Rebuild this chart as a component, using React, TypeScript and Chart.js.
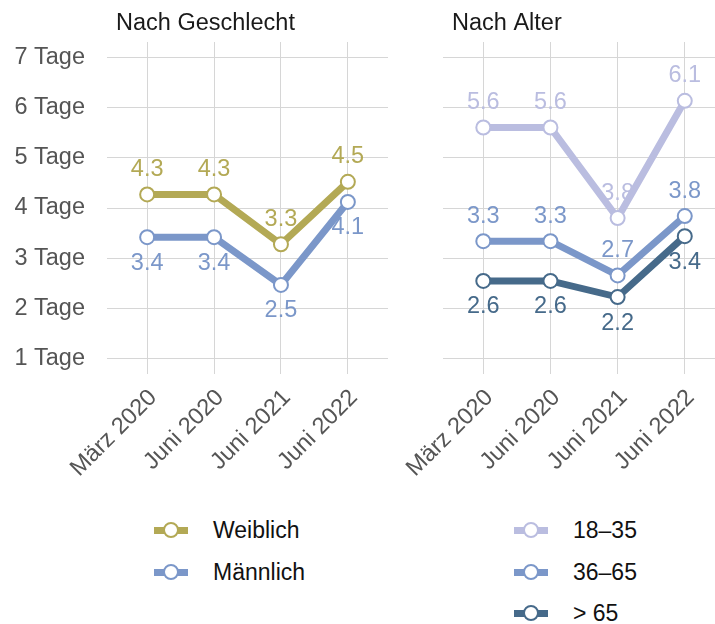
import React, { useEffect, useRef } from "react";
import { Chart, registerables } from "chart.js";

Chart.register(...registerables);

const categories = ["März 2020", "Juni 2020", "Juni 2021", "Juni 2022"];
const yTicks = [1, 2, 3, 4, 5, 6, 7];

const weiblich = [4.27, 4.27, 3.28, 4.52];
const weiblichLabels = ["4.3", "4.3", "3.3", "4.5"];
const maennlich = [3.42, 3.42, 2.47, 4.12];
const maennlichLabels = ["3.4", "3.4", "2.5", "4.1"];

const age18 = [5.6, 5.6, 3.8, 6.13];
const age18Labels = ["5.6", "5.6", "3.8", "6.1"];
const age36 = [3.34, 3.34, 2.66, 3.84];
const age36Labels = ["3.3", "3.3", "2.7", "3.8"];
const age65 = [2.55, 2.55, 2.23, 3.44];
const age65Labels = ["2.6", "2.6", "2.2", "3.4"];

const C_W = "#b3a955";
const C_M = "#7b97c9";
const C_18 = "#babde0";
const C_36 = "#7b97c9";
const C_65 = "#466a8a";

const FONT = "'Liberation Sans', Arial, Helvetica, sans-serif";
const GRID = "#d6d6d6";
const FS = 23.5;

type Series = {
  name: string;
  values: number[];
  labels: string[];
  color: string;
  pos: ("above" | "below")[];
  order: number;
};

const leftSeries: Series[] = [
  { name: "Weiblich", values: weiblich, labels: weiblichLabels, color: C_W, pos: ["above", "above", "above", "above"], order: 2 },
  { name: "Männlich", values: maennlich, labels: maennlichLabels, color: C_M, pos: ["below", "below", "below", "below"], order: 1 },
];

const rightSeries: Series[] = [
  { name: "18–35", values: age18, labels: age18Labels, color: C_18, pos: ["above", "above", "above", "above"], order: 3 },
  { name: "36–65", values: age36, labels: age36Labels, color: C_36, pos: ["above", "above", "above", "above"], order: 2 },
  { name: "> 65", values: age65, labels: age65Labels, color: C_65, pos: ["below", "below", "below", "below"], order: 1 },
];

function makeChart(
  canvas: HTMLCanvasElement,
  series: Series[],
  title: string,
  opts: { yWidth: number; showY: boolean; xMax: number; padRight: number }
) {
  const labelPlugin = {
    id: "valueLabels",
    afterDatasetsDraw(chart: any) {
      const ctx = chart.ctx;
      ctx.save();
      ctx.font = `${FS}px ${FONT}`;
      ctx.textAlign = "center";
      ctx.textBaseline = "middle";
      chart.data.datasets.forEach((ds: any, di: number) => {
        const meta = chart.getDatasetMeta(di);
        const s: Series = ds._series;
        meta.data.forEach((pt: any, i: number) => {
          ctx.fillStyle = s.color;
          const dy = s.pos[i] === "above" ? -25 : 26;
          ctx.fillText(s.labels[i], pt.x, pt.y + dy);
        });
      });
      ctx.restore();
    },
  };
  const titlePlugin = {
    id: "panelTitle",
    afterDraw(chart: any) {
      const ctx = chart.ctx;
      ctx.save();
      ctx.font = `${FS}px ${FONT}`;
      ctx.fillStyle = "#1a1a1a";
      ctx.textAlign = "left";
      ctx.textBaseline = "middle";
      ctx.fillText(title, chart.chartArea.left + 9, 24);
      ctx.restore();
    },
  };

  return new Chart(canvas, {
    type: "line",
    data: {
      datasets: series.map((s) => ({
        label: s.name,
        data: s.values.map((v, i) => ({ x: i, y: v })),
        borderColor: s.color,
        backgroundColor: "#ffffff",
        borderWidth: 7,
        pointRadius: 7,
        pointBorderWidth: 2,
        pointBorderColor: s.color,
        pointBackgroundColor: "#ffffff",
        pointHoverRadius: 7,
        tension: 0,
        clip: false,
        order: s.order,
        _series: s,
      })) as any,
    },
    options: {
      animation: false,
      responsive: false,
      events: [],
      layout: { autoPadding: false, padding: { top: 42, right: opts.padRight, left: 0, bottom: 0 } },
      plugins: {
        legend: { display: false },
        tooltip: { enabled: false },
        title: { display: false },
      },
      scales: {
        x: {
          type: "linear",
          min: -0.6,
          max: opts.xMax,
          afterBuildTicks: (axis: any) => {
            axis.ticks = categories.map((_, i) => ({ value: i }));
          },
          afterFit: (axis: any) => {
            axis.height = 106;
            axis.paddingLeft = 0;
            axis.paddingRight = 0;
          },
          border: { display: false },
          grid: { color: GRID, lineWidth: 1, drawTicks: false },
          ticks: {
            autoSkip: false,
            maxRotation: 45,
            minRotation: 45,
            padding: 10,
            labelOffset: 6,
            color: "#555555",
            font: { family: FONT, size: FS },
            callback: (v: any) => categories[Math.round(Number(v))] ?? "",
          },
        },
        y: {
          type: "linear",
          min: 0.7,
          max: 7.3,
          afterBuildTicks: (axis: any) => {
            axis.ticks = yTicks.map((v) => ({ value: v }));
          },
          afterFit: (axis: any) => {
            axis.width = opts.yWidth;
            axis.paddingTop = 0;
            axis.paddingBottom = 0;
          },
          border: { display: false },
          grid: { color: GRID, lineWidth: 1, drawTicks: false },
          ticks: {
            display: opts.showY,
            padding: 22,
            color: "#555555",
            font: { family: FONT, size: FS },
            callback: (v: any) => `${v} Tage`,
          },
        },
      },
    },
    plugins: [labelPlugin, titlePlugin],
  } as any);
}

function LegendRow({ color, text, top, left }: { color: string; text: string; top: number; left: number }) {
  return (
    <div style={{ position: "absolute", left, top: top - 15, height: 30, width: 200 }}>
      <div
        style={{
          position: "absolute",
          left: 0,
          top: 11.5,
          width: 34,
          height: 7,
          background: color,
        }}
      />
      <div
        style={{
          position: "absolute",
          left: 17 - 8,
          top: 7,
          width: 12,
          height: 12,
          borderRadius: "50%",
          border: `2px solid ${color}`,
          background: "#ffffff",
        }}
      />
      <div
        style={{
          position: "absolute",
          left: 59,
          top: 0,
          height: 30,
          lineHeight: "30px",
          fontFamily: FONT,
          fontSize: 23,
          color: "#111111",
          whiteSpace: "nowrap",
        }}
      >
        {text}
      </div>
    </div>
  );
}

export default function App() {
  const leftRef = useRef<HTMLCanvasElement>(null);
  const rightRef = useRef<HTMLCanvasElement>(null);

  useEffect(() => {
    const c1 = makeChart(leftRef.current!, leftSeries, "Nach Geschlecht", {
      yWidth: 107,
      showY: true,
      xMax: 3.6,
      padRight: 2,
    });
    const c2 = makeChart(rightRef.current!, rightSeries, "Nach Alter", {
      yWidth: 53,
      showY: false,
      xMax: 3.45,
      padRight: 0,
    });
    return () => {
      c1.destroy();
      c2.destroy();
    };
  }, []);

  const rowsY = [530, 572, 613];

  return (
    <div style={{ position: "absolute", left: 0, top: 0, width: 715, height: 624, background: "#ffffff", overflow: "hidden" }}>
      <canvas ref={leftRef} width={390} height={480} style={{ position: "absolute", left: 0, top: 0 }} />
      <canvas ref={rightRef} width={325} height={480} style={{ position: "absolute", left: 390, top: 0 }} />
      {leftSeries.map((s, i) => (
        <LegendRow key={s.name} color={s.color} text={s.name} top={rowsY[i]} left={154} />
      ))}
      {rightSeries.map((s, i) => (
        <LegendRow key={s.name} color={s.color} text={s.name} top={rowsY[i]} left={514} />
      ))}
    </div>
  );
}
